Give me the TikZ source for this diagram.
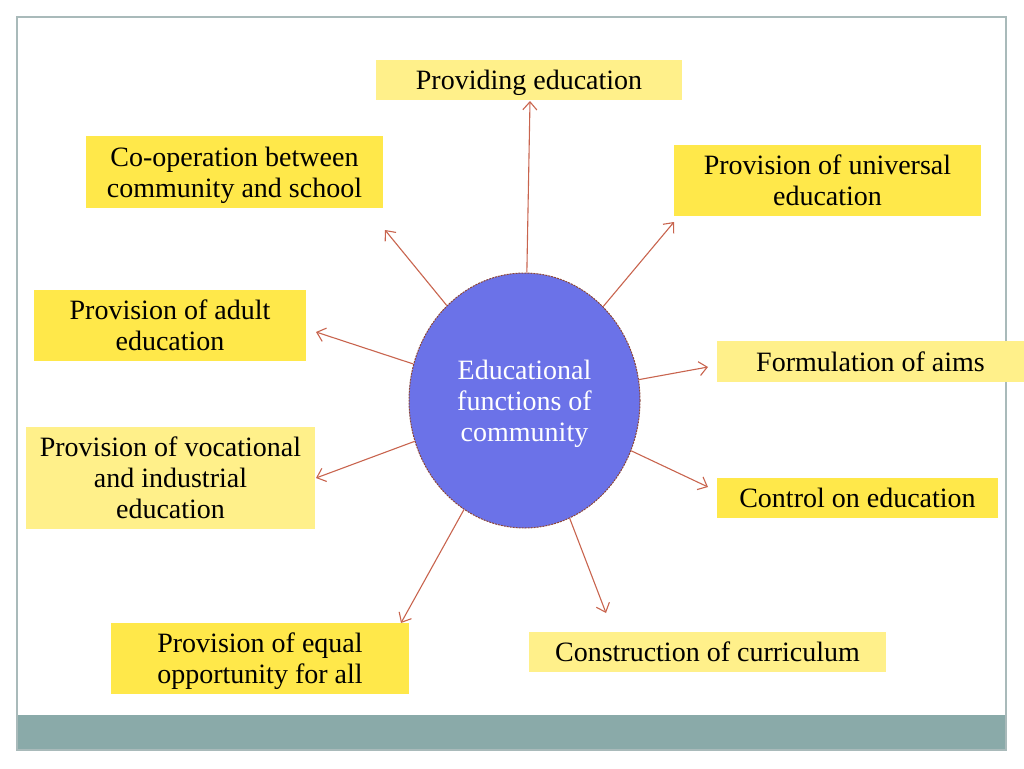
\documentclass[tikz,border=0pt]{standalone}
\usepackage{fontspec}
\setmainfont{Liberation Serif}
\usepackage{tikz}
\usetikzlibrary{positioning, shapes.geometric, arrows.meta}

\definecolor{lightyel}{HTML}{FFF08A}
\definecolor{strongyel}{HTML}{FFE84A}
\definecolor{hubblue}{HTML}{6B72E8}
\definecolor{arrowred}{HTML}{C8644E}
\definecolor{framegray}{HTML}{A9BABA}
\definecolor{bargray}{HTML}{8AAAA9}

\begin{document}
\begin{tikzpicture}[x=1pt, y=-1pt,
    lightbox/.style={fill=lightyel, inner sep=0pt, text depth=0pt, align=center, font=\fontsize{28}{31}\selectfont},
    strongbox/.style={fill=strongyel, inner sep=0pt, text depth=0pt, align=center, font=\fontsize{28}{31}\selectfont},
    hubnode/.style={ellipse, fill=hubblue, draw=arrowred!70!black, line width=1pt, dash pattern=on 2pt off 1pt,
        text depth=0pt, align=center, text=white, font=\fontsize{28}{31}\selectfont},
    spoke/.style={-{Straight Barb[length=8pt, width=14pt, line width=1.1pt]}, draw=arrowred, line width=1.1pt}]
    \useasboundingbox (0,0) rectangle (1024,768);
    %Frame
    \fill[bargray] (17,715) rectangle (1006,750);
    \draw[framegray, line width=1.5pt] (17,17) rectangle (1006,750);

    %Nodes
    \node[hubnode, minimum width=231pt, minimum height=255pt] (hub) at (524.5,400.5)
        {Educational\\functions of\\community};
    \node[lightbox, minimum width=306pt, minimum height=40pt]  (edu)   at (529,80)     {Providing education};
    \node[strongbox, minimum width=297pt, minimum height=72pt] (coop)  at (234.5,172)  {Co-operation between\\community and school};
    \node[strongbox, minimum width=307pt, minimum height=71pt] (univ)  at (827.5,180.5) {Provision of universal\\education};
    \node[strongbox, minimum width=272pt, minimum height=71pt] (adult) at (170,325.5)  {Provision of adult\\education};
    \node[lightbox, minimum width=307pt, minimum height=41pt]  (aims)  at (870.5,361.5) {Formulation of aims};
    \node[lightbox, minimum width=289pt, minimum height=102pt] (voc)   at (170.5,478)  {Provision of vocational\\and industrial\\education};
    \node[strongbox, minimum width=281pt, minimum height=40pt] (ctrl)  at (857.5,498)  {Control on education};
    \node[strongbox, minimum width=298pt, minimum height=71pt] (equal) at (260,658.5)  {Provision of equal\\opportunity for all};
    \node[lightbox, minimum width=357pt, minimum height=40pt]  (curr)  at (707.5,652)  {Construction of curriculum};

    %Arrow tips
    \coordinate (tedu)   at (530,101);
    \coordinate (tcoop)  at (385,230);
    \coordinate (tuniv)  at (674,222);
    \coordinate (tadult) at (316,332);
    \coordinate (taims)  at (708,367);
    \coordinate (tvoc)   at (316,478);
    \coordinate (tctrl)  at (708,487);
    \coordinate (tequal) at (401,623);
    \coordinate (tcurr)  at (606,613);

    %Lines
    \draw[spoke] (hub) -- (tedu);
    \draw[spoke] (hub) -- (tcoop);
    \draw[spoke] (hub) -- (tuniv);
    \draw[spoke] (hub) -- (tadult);
    \draw[spoke] (hub) -- (taims);
    \draw[spoke] (hub) -- (tvoc);
    \draw[spoke] (hub) -- (tctrl);
    \draw[spoke] (hub) -- (tequal);
    \draw[spoke] (hub) -- (tcurr);
\end{tikzpicture}
\end{document}
